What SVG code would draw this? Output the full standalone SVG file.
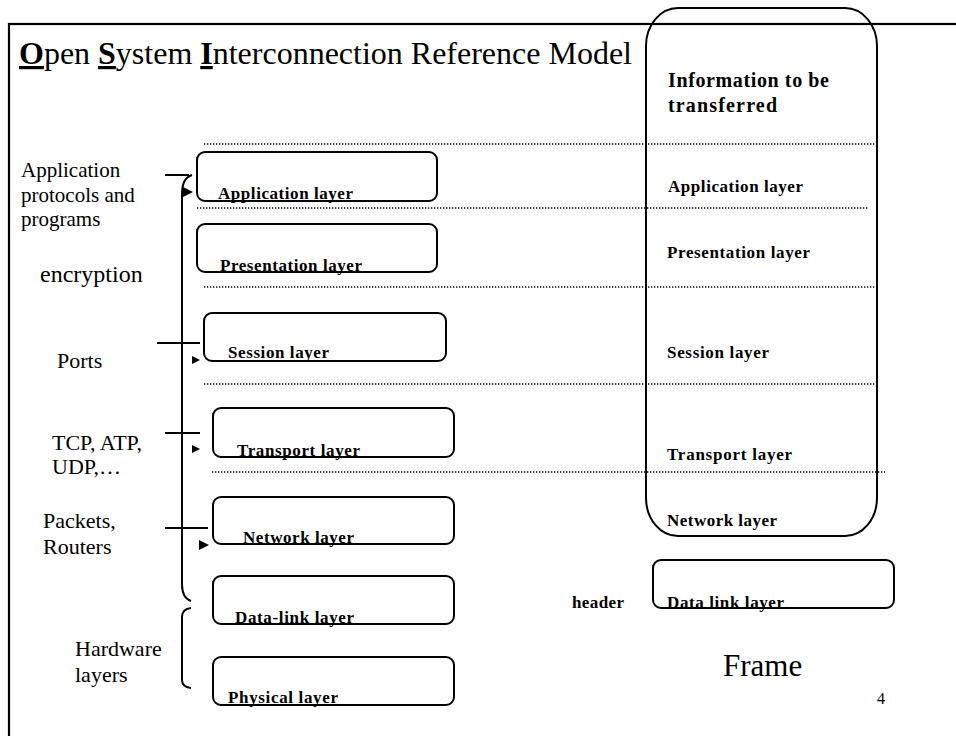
<svg xmlns="http://www.w3.org/2000/svg" width="956" height="736" viewBox="0 0 956 736">
<style>
.reg{font-family:"Liberation Serif","Times New Roman",serif;fill:#000}
.bl{font-family:"Liberation Serif","Times New Roman",serif;font-weight:bold;fill:#000;font-size:17px}
.box{fill:#fff;stroke:#000;stroke-width:2}
.dot{stroke:#000;stroke-width:1.3;stroke-dasharray:1.3 1.7;fill:none}
.ln{stroke:#000;stroke-width:2;fill:none}
.u{font-weight:bold;text-decoration:underline}
</style>
<rect width="956" height="736" fill="#fff"/>
<rect x="9" y="24" width="980" height="740" fill="none" stroke="#000" stroke-width="2.2"/>
<text class="reg" x="19" y="64" font-size="32" textLength="613"><tspan class="u">O</tspan>pen <tspan class="u">S</tspan>ystem <tspan class="u">I</tspan>nterconnection Reference Model</text>

<g id="info-column">
<rect x="646" y="8" width="231" height="528" rx="32" ry="38" fill="none" stroke="#000" stroke-width="2"/>
<text class="bl" x="668" y="87" style="font-size:20px" textLength="161">Information to be</text>
<text class="bl" x="668" y="112" style="font-size:20px" textLength="109">transferred</text>
<text class="bl" x="668" y="192" textLength="135">Application layer</text>
<text class="bl" x="667" y="258" textLength="143">Presentation layer</text>
<text class="bl" x="667" y="358" textLength="102">Session layer</text>
<text class="bl" x="667" y="460" textLength="125">Transport layer</text>
<text class="bl" x="667" y="526" textLength="110">Network layer</text>
</g>

<g id="dotted-lines">
<line class="dot" x1="204" y1="144" x2="877" y2="144"/>
<line class="dot" x1="197" y1="208" x2="868" y2="208"/>
<line class="dot" x1="204" y1="287" x2="877" y2="287"/>
<line class="dot" x1="204" y1="384" x2="877" y2="384"/>
<line class="dot" x1="212" y1="472" x2="885" y2="472"/>
</g>

<g id="application-layer">
<rect class="box" x="197" y="152" width="240" height="49" rx="8"/>
<text class="bl" x="218" y="199" textLength="135">Application layer</text>
</g>
<g id="presentation-layer">
<rect class="box" x="197" y="224" width="240" height="48" rx="8"/>
<text class="bl" x="220" y="271" textLength="142">Presentation layer</text>
</g>
<g id="session-layer">
<rect class="box" x="204" y="313" width="242" height="48" rx="8"/>
<text class="bl" x="228" y="358" textLength="101">Session layer</text>
</g>
<g id="transport-layer">
<rect class="box" x="213" y="408" width="241" height="49" rx="8"/>
<text class="bl" x="237" y="456" textLength="123">Transport layer</text>
</g>
<g id="network-layer">
<rect class="box" x="213" y="497" width="241" height="47" rx="8"/>
<text class="bl" x="243" y="543" textLength="111">Network layer</text>
</g>
<g id="data-link-layer">
<rect class="box" x="213" y="576" width="241" height="48" rx="8"/>
<text class="bl" x="235" y="623" textLength="119">Data-link layer</text>
</g>
<g id="physical-layer">
<rect class="box" x="213" y="657" width="241" height="48" rx="8"/>
<text class="bl" x="228" y="703" textLength="110">Physical layer</text>
</g>

<g id="frame-data-link">
<rect class="box" x="653" y="560" width="241" height="48" rx="8"/>
<text class="bl" x="667" y="608" textLength="117">Data link layer</text>
</g>
<text class="bl" x="572" y="608" textLength="52">header</text>
<text class="reg" x="723" y="676" font-size="31">Frame</text>
<text class="reg" x="877" y="704" font-size="16">4</text>

<g id="left-labels">
<text class="reg" font-size="21"><tspan x="21" y="177">Application</tspan><tspan x="21" y="202">protocols and</tspan><tspan x="21" y="226">programs</tspan></text>
<text class="reg" x="40" y="282" font-size="24">encryption</text>
<text class="reg" x="57" y="368" font-size="22">Ports</text>
<text class="reg" font-size="22"><tspan x="52" y="450">TCP, ATP,</tspan><tspan x="52" y="474">UDP,…</tspan></text>
<text class="reg" font-size="22"><tspan x="43" y="528">Packets,</tspan><tspan x="43" y="554">Routers</tspan></text>
<text class="reg" font-size="22"><tspan x="75" y="656">Hardware</tspan><tspan x="75" y="682">layers</tspan></text>
</g>

<g id="connectors">
<path class="ln" d="M192 175 Q182 178 182 194 L182 584 Q182 598 191 601"/>
<path class="ln" d="M191 608 Q182 609 182 617 L182 680 Q182 687 191 688"/>
<line class="ln" x1="165" y1="175" x2="189" y2="175"/>
<line class="ln" x1="157" y1="343" x2="200" y2="343"/>
<line class="ln" x1="165" y1="433" x2="200" y2="433"/>
<line class="ln" x1="165" y1="528" x2="208" y2="528"/>
<polygon points="183,187 193,192 183,197" fill="#000"/>
<polygon points="192,356 200,360 192,364" fill="#000"/>
<polygon points="192,445 200,449 192,453" fill="#000"/>
<polygon points="199,540 209,545 199,550" fill="#000"/>
</g>
</svg>
